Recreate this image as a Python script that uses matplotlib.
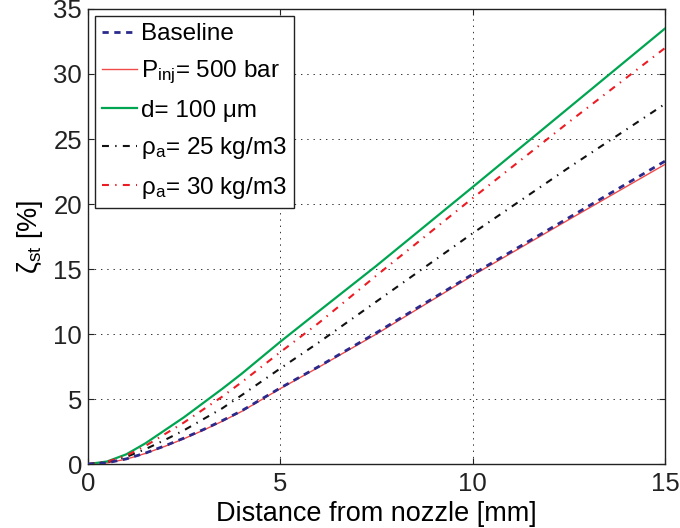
import matplotlib
matplotlib.use("Agg")
import matplotlib.pyplot as plt
import numpy as np

plt.rcParams['font.family'] = ['Liberation Sans', 'DejaVu Sans']
plt.rcParams['mathtext.fontset'] = 'custom'
plt.rcParams['mathtext.rm'] = 'Liberation Sans'
plt.rcParams['mathtext.it'] = 'Liberation Sans:italic'
plt.rcParams['lines.scale_dashes'] = False

x = [0, 0.5, 1, 1.5, 2, 2.5, 3, 3.5, 4, 5, 6, 7.5, 10, 12.5, 15]
baseline = [0, 0.1, 0.4, 0.85, 1.4, 2.0, 2.65, 3.35, 4.1, 5.85, 7.5, 10.1, 14.6, 18.95, 23.3]
pinj500 = [0, 0.09, 0.38, 0.82, 1.36, 1.95, 2.6, 3.3, 4.05, 5.8, 7.45, 10.0, 14.5, 18.8, 23.05]
d100 = [0, 0.2, 0.75, 1.6, 2.6, 3.6, 4.7, 5.8, 6.95, 9.4, 11.75, 15.25, 21.3, 27.4, 33.5]
rho25 = [0, 0.15, 0.55, 1.15, 1.85, 2.6, 3.45, 4.3, 5.3, 7.35, 9.35, 12.5, 17.75, 22.8, 27.7]
rho30 = [0, 0.18, 0.65, 1.4, 2.3, 3.2, 4.2, 5.2, 6.3, 8.6, 10.85, 14.5, 20.45, 26.3, 32.0]

labels = ["Baseline", r"P$_\mathregular{inj}$= 500 bar", "d= 100 μm",
          r"ρ$_\mathregular{a}$= 25 kg/m3", r"ρ$_\mathregular{a}$= 30 kg/m3"]

FS_TICK = 18.5
FS_LAB = 19.5
FS_LEG = 17.5
fig = plt.figure(figsize=(6.8, 5.28), dpi=100)
ax = fig.add_axes([0.129, 0.121, 0.849, 0.862])

l1, = ax.plot(x, baseline, color='#2a2a8c', lw=2.0, dashes=(4.5, 4), zorder=4)
l2, = ax.plot(x, pinj500, color='#f04a4a', lw=1.0, zorder=3)
l3, = ax.plot(x, d100, color='#00a551', lw=1.6, zorder=3)
l4, = ax.plot(x, rho25, color='#111111', lw=1.5, dashes=(5, 4.5, 1, 4.5), zorder=3)
l5, = ax.plot(x, rho30, color='#ec1c24', lw=1.5, dashes=(5, 4.5, 1, 4.5), zorder=3)

ax.set_xlim(0, 15)
ax.set_ylim(0, 35)
ax.set_xticks([0, 5, 10, 15])
ax.set_yticks([0, 5, 10, 15, 20, 25, 30, 35])
ax.tick_params(direction='in', length=4.5, width=0.8, top=True, right=True,
               labelsize=FS_TICK, colors='#222222')
ax.tick_params(axis='x', pad=6)
ax.tick_params(axis='y', pad=4)
ax.grid(True, linestyle=(0, (1, 3.5)), color='#333333', lw=0.7)
for s in ax.spines.values():
    s.set_linewidth(1.0)
    s.set_color('#222222')

ax.set_xlabel("Distance from nozzle [mm]", fontsize=FS_LAB, labelpad=3)
ax.set_ylabel(r"ζ$_\mathregular{st}$ [%]", fontsize=FS_LAB, labelpad=6)

leg = ax.legend([l1, l2, l3, l4, l5], labels, loc='upper left', bbox_to_anchor=(0, 1),
                borderaxespad=0.28, fontsize=FS_LEG, handlelength=1.45, handletextpad=0.15,
                labelspacing=0.56, borderpad=0.3, fancybox=False, framealpha=1,
                edgecolor='#222222')
leg.get_frame().set_linewidth(1.0)

fig.savefig("out.png", dpi=100)
